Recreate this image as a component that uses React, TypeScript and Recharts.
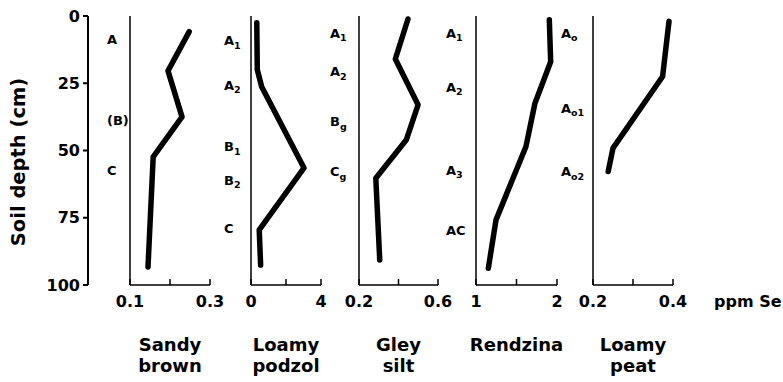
import React from "react";
import { LineChart, Line, XAxis, YAxis, Label, ReferenceLine } from "recharts";

const FONT = "'DejaVu Sans', sans-serif";

// depth scale (cm) shared by every panel
const DEPTH_DOMAIN = [0, 100];
const DEPTH_TICKS = [0, 25, 50, 75, 100];

// Sandy brown
const sandySe = [0.248, 0.195, 0.23, 0.158, 0.145];
const sandyDepth = [5.8, 20.4, 37.5, 52.4, 93.3];
const sandyHz = [["A", ""], ["(B)", ""], ["C", ""]];
const sandyHzDepth = [8.8, 38.9, 57.2];
const sandyTicks = [0.1, 0.2, 0.3];
const sandyTickLabels = ["0.1", "", "0.3"];

// Loamy podzol
const podzolSe = [0.33, 0.36, 0.61, 3.03, 0.47, 0.55];
const podzolDepth = [2.5, 20, 26.3, 56.5, 79.5, 92.6];
const podzolHz = [["A", "1"], ["A", "2"], ["B", "1"], ["B", "2"], ["C", ""]];
const podzolHzDepth = [9.2, 25.6, 48.5, 61, 79];
const podzolTicks = [0, 2, 4];
const podzolTickLabels = ["0", "", "4"];

// Gley silt
const gleySe = [0.448, 0.384, 0.499, 0.44, 0.285, 0.305];
const gleyDepth = [1.1, 16, 33, 46, 60.3, 90.7];
const gleyHz = [["A", "1"], ["A", "2"], ["B", "g"], ["C", "g"]];
const gleyHzDepth = [6.3, 20.6, 39.2, 57.8];
const gleyTicks = [0.2, 0.4, 0.6];
const gleyTickLabels = ["0.2", "", "0.6"];

// Rendzina
const rendzinaSe = [1.905, 1.922, 1.728, 1.617, 1.247, 1.152];
const rendzinaDepth = [1.4, 17, 32.4, 48.5, 75.8, 93.8];
const rendzinaHz = [["A", "1"], ["A", "2"], ["A", "3"], ["AC", ""]];
const rendzinaHzDepth = [6.3, 26.4, 57.2, 79.5];
const rendzinaTicks = [1, 1.5, 2];
const rendzinaTickLabels = ["1", "", "2"];

// Loamy peat
const peatSe = [0.39, 0.374, 0.25, 0.238];
const peatDepth = [2, 22.5, 49.1, 57.8];
const peatHz = [["A", "o"], ["A", "o1"], ["A", "o2"]];
const peatHzDepth = [6.3, 34.2, 57.8];
const peatTicks = [0.2, 0.3, 0.4];
const peatTickLabels = ["0.2", "", "0.4"];

const H = 382;
const PLOT_TOP = 16;
const PLOT_BOTTOM = 285;
const X_AXIS_H = 30;
const LABEL_W = 42;
const DEPTH_W = 88;

// the shared "Soil depth" axis, drawn as its own narrow chart
function DepthAxis() {
  const data = sandySe.map((v, i) => ({ se: v, depth: sandyDepth[i] }));

  const depthLabel = (p: any) => {
    const vb = p.viewBox;
    const cx = vb.x + 18;
    const cy = 162;
    return (
      <text x={cx} y={cy} transform={`rotate(-90, ${cx}, ${cy})`} textAnchor="middle" dy="0.36em" fontFamily={FONT} fontWeight="bold" fontSize={19.5} fill="#000">
        Soil depth (cm)
      </text>
    );
  };

  return (
    <div style={{ position: "absolute", left: 0, top: 0 }}>
      <LineChart width={DEPTH_W + 20} height={H} data={data}
        margin={{ top: PLOT_TOP, right: 0, bottom: H - PLOT_BOTTOM - X_AXIS_H, left: 0 }}>
        <XAxis type="number" dataKey="se" domain={[0.1, 0.3]} height={X_AXIS_H} axisLine={false} tickLine={false} tick={false} />
        <YAxis type="number" dataKey="depth" domain={DEPTH_DOMAIN} reversed
          ticks={DEPTH_TICKS} interval={0} width={DEPTH_W} tickSize={5} tickMargin={3}
          stroke="#000" axisLine={{ stroke: "#000", strokeWidth: 2 }} tickLine={{ stroke: "#000", strokeWidth: 2 }}
          tick={{ fill: "#000", fontSize: 16, fontWeight: "bold", fontFamily: FONT }}>
          <Label content={depthLabel} />
        </YAxis>
        <ReferenceLine x={0.1} stroke="#000" strokeWidth={2} ifOverflow="visible" />
        <Line type="linear" dataKey="depth" stroke="none" dot={false} activeDot={false} isAnimationActive={false} />
      </LineChart>
    </div>
  );
}

interface PanelProps {
  se: number[];
  depth: number[];
  hz: string[][];
  hzDepth: number[];
  ticks: number[];
  tickLabels: string[];
  title: string[];
  plotLeft: number;
  plotWidth: number;
  labelOffset: number;
  rightPad?: number;
  unit?: string;
}

function Panel({ se, depth, hz, hzDepth, ticks, tickLabels, title, plotLeft, plotWidth, labelOffset, rightPad = 14, unit }: PanelProps) {
  const data = se.map((v, i) => ({ se: v, depth: depth[i] }));
  const chartLeft = plotLeft - LABEL_W;
  const width = LABEL_W + plotWidth + rightPad;

  const horizonTick = (p: any) => {
    const i = hzDepth.indexOf(p.payload.value);
    if (i < 0) return <g />;
    const [main, sub] = hz[i];
    return (
      <text x={p.x - labelOffset} y={p.y} dy="0.36em" textAnchor="start" fontFamily={FONT} fontWeight="bold" fontSize={13} fill="#000">
        {main}
        {sub ? <tspan fontSize={9.5} dy={3.5}>{sub}</tspan> : null}
      </text>
    );
  };

  const titleContent = (p: any) => {
    const vb = p.viewBox;
    const cx = vb.x + vb.width / 2;
    return (
      <g>
        <text x={cx} y={vb.y + 66} textAnchor="middle" fontFamily={FONT} fontWeight="bold" fontSize={18} fill="#000">{title[0]}</text>
        {title[1] ? (
          <text x={cx} y={vb.y + 87} textAnchor="middle" fontFamily={FONT} fontWeight="bold" fontSize={18} fill="#000">{title[1]}</text>
        ) : null}
        {unit ? (
          <text x={vb.x + vb.width + 41} y={vb.y + 22} textAnchor="start" fontFamily={FONT} fontWeight="bold" fontSize={16} fill="#000">{unit}</text>
        ) : null}
      </g>
    );
  };

  return (
    <div style={{ position: "absolute", left: chartLeft, top: 0 }}>
      <LineChart width={width} height={H} data={data}
        margin={{ top: PLOT_TOP, right: rightPad, bottom: H - PLOT_BOTTOM - X_AXIS_H, left: 0 }}>
        <XAxis type="number" dataKey="se" domain={[ticks[0], ticks[2]]} ticks={ticks} interval={0}
          tickFormatter={(v) => tickLabels[ticks.indexOf(v)] ?? ""}
          height={X_AXIS_H} tickSize={-6} tickMargin={17} stroke="#000"
          axisLine={{ stroke: "#000", strokeWidth: 1.5 }} tickLine={{ stroke: "#000", strokeWidth: 1.5 }}
          tick={{ fill: "#000", fontSize: 16, fontWeight: "bold", fontFamily: FONT }}>
          <Label content={titleContent} />
        </XAxis>
        <YAxis type="number" dataKey="depth" domain={DEPTH_DOMAIN} reversed
          ticks={hzDepth} interval={0} width={LABEL_W} tickSize={0} tickMargin={0} tickLine={false}
          stroke="#000" axisLine={{ stroke: "#000", strokeWidth: 1.5 }} tick={horizonTick} />
        <Line type="linear" dataKey="depth" stroke="#000" strokeWidth={5.5}
          strokeLinejoin="round" strokeLinecap="round" dot={false} activeDot={false} isAnimationActive={false} />
      </LineChart>
    </div>
  );
}

export default function App() {
  return (
    <div style={{ position: "absolute", left: 0, top: 0, width: 783, height: H, background: "#fff" }}>
      <DepthAxis />
      <Panel se={sandySe} depth={sandyDepth} hz={sandyHz} hzDepth={sandyHzDepth}
        ticks={sandyTicks} tickLabels={sandyTickLabels} title={["Sandy", "brown"]}
        plotLeft={130} plotWidth={80} labelOffset={23} />
      <Panel se={podzolSe} depth={podzolDepth} hz={podzolHz} hzDepth={podzolHzDepth}
        ticks={podzolTicks} tickLabels={podzolTickLabels} title={["Loamy", "podzol"]}
        plotLeft={251} plotWidth={70} labelOffset={27} />
      <Panel se={gleySe} depth={gleyDepth} hz={gleyHz} hzDepth={gleyHzDepth}
        ticks={gleyTicks} tickLabels={gleyTickLabels} title={["Gley", "silt"]}
        plotLeft={359} plotWidth={79} labelOffset={29} />
      <Panel se={rendzinaSe} depth={rendzinaDepth} hz={rendzinaHz} hzDepth={rendzinaHzDepth}
        ticks={rendzinaTicks} tickLabels={rendzinaTickLabels} title={["Rendzina", ""]}
        plotLeft={476} plotWidth={81} labelOffset={30} />
      <Panel se={peatSe} depth={peatDepth} hz={peatHz} hzDepth={peatHzDepth}
        ticks={peatTicks} tickLabels={peatTickLabels} title={["Loamy", "peat"]}
        plotLeft={593} plotWidth={80} labelOffset={32} rightPad={108} unit="ppm Se" />
    </div>
  );
}
